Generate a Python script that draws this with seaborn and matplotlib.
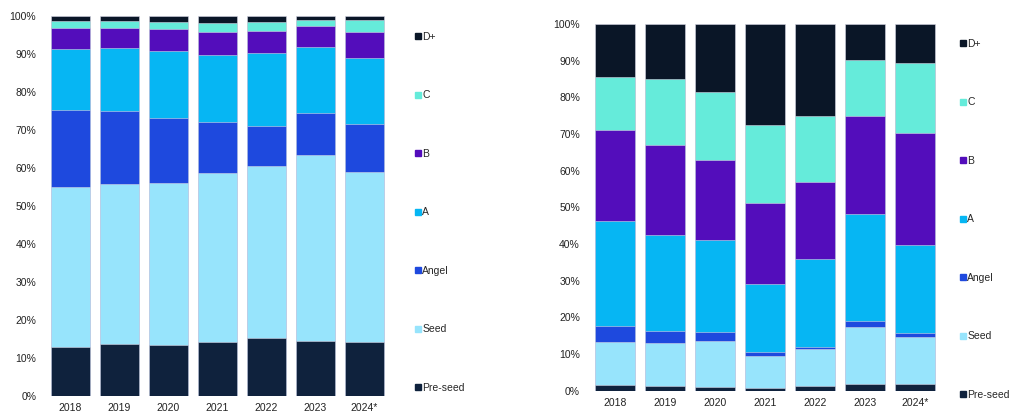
import matplotlib
matplotlib.use("Agg")
import matplotlib.pyplot as plt
from matplotlib.lines import Line2D
import seaborn as sns
import pandas as pd
import numpy as np

years = ["2018", "2019", "2020", "2021", "2022", "2023", "2024*"]
stages = ["Pre-seed", "Seed", "Angel", "A", "B", "C", "D+"]

# left chart: share of deal count by stage (%)
left_preseed = [13.0, 13.7, 13.4, 14.3, 15.3, 14.6, 14.1]
left_seed = [41.9, 42.0, 42.6, 44.3, 45.3, 48.8, 44.8]
left_angel = [20.4, 19.4, 17.3, 13.6, 10.5, 11.1, 12.7]
left_a = [16.1, 16.6, 17.5, 17.7, 19.1, 17.5, 17.4]
left_b = [5.4, 5.1, 5.7, 5.8, 5.9, 5.3, 6.9]
left_c = [2.0, 2.0, 1.9, 2.5, 2.3, 1.8, 3.2]
left_dplus = [1.2, 1.2, 1.6, 1.8, 1.6, 0.9, 0.9]

# right chart: share of deal value by stage (%)
right_preseed = [1.6, 1.4, 1.1, 0.8, 1.2, 1.7, 1.7]
right_seed = [11.8, 11.5, 12.4, 8.6, 10.1, 15.8, 13.0]
right_angel = [4.2, 3.4, 2.6, 1.1, 0.7, 1.4, 0.9]
right_a = [28.7, 26.2, 24.9, 18.6, 24.0, 29.4, 24.0]
right_b = [24.8, 24.4, 22.0, 22.0, 20.9, 26.5, 30.7]
right_c = [14.4, 18.2, 18.4, 21.4, 18.1, 15.4, 19.0]
right_dplus = [14.5, 14.9, 18.6, 27.5, 25.0, 9.8, 10.7]

colors = {
    "Pre-seed": "#0f223d",
    "Seed": "#97e4fc",
    "Angel": "#1e49de",
    "A": "#06b6f3",
    "B": "#530dbb",
    "C": "#65ebda",
    "D+": "#0a1627",
}

sns.set_theme(style="white")
plt.rcParams["font.family"] = ["Liberation Sans", "DejaVu Sans"]
plt.rcParams["font.size"] = 7.5


def stacked(ax, series):
    df = pd.DataFrame(series, index=years)
    cum = df.cumsum(axis=1) / 100.0
    # draw from the top stage down so lower stages overlay the taller bars
    for stage in stages[::-1]:
        sns.barplot(x=years, y=cum[stage].values, color=colors[stage], width=0.8,
                    edgecolor="#d4d4e4", linewidth=0.4, saturation=1, ax=ax)
    ax.set_ylim(0, 1)
    ax.set_xlim(-0.5, 6.5)
    ax.set_yticks(np.arange(0, 1.01, 0.1))
    ax.set_yticklabels([f"{int(round(v * 100))}%" for v in np.arange(0, 1.01, 0.1)])
    ax.tick_params(axis="both", length=0, labelsize=7.5, colors="#222222")
    ax.tick_params(axis="y", pad=7)
    ax.tick_params(axis="x", pad=5)
    sns.despine(ax=ax, left=True, bottom=True)
    ax.set_xlabel("")
    ax.set_ylabel("")


fig = plt.figure(figsize=(10.11, 4.12), dpi=100)
ax1 = fig.add_axes([0.0455, 0.0388, 0.339, 0.922])
ax2 = fig.add_axes([0.5833, 0.0517, 0.3462, 0.890])

stacked(ax1, {"Pre-seed": left_preseed, "Seed": left_seed, "Angel": left_angel,
              "A": left_a, "B": left_b, "C": left_c, "D+": left_dplus})
stacked(ax2, {"Pre-seed": right_preseed, "Seed": right_seed, "Angel": right_angel,
              "A": right_a, "B": right_b, "C": right_c, "D+": right_dplus})

handles = [Line2D([0], [0], marker="s", linestyle="", markersize=4,
                  markerfacecolor=colors[s], markeredgecolor=colors[s])
           for s in stages[::-1]]
labels = stages[::-1]
for x0, y0 in [(0.410, 0.923), (0.949, 0.906)]:
    fig.legend(handles, labels, loc="upper left", bbox_to_anchor=(x0, y0),
               frameon=False, fontsize=7.5, handlelength=0.6, handletextpad=0.15,
               labelspacing=4.66, borderpad=0, borderaxespad=0)

fig.savefig("out.png", dpi=100)
